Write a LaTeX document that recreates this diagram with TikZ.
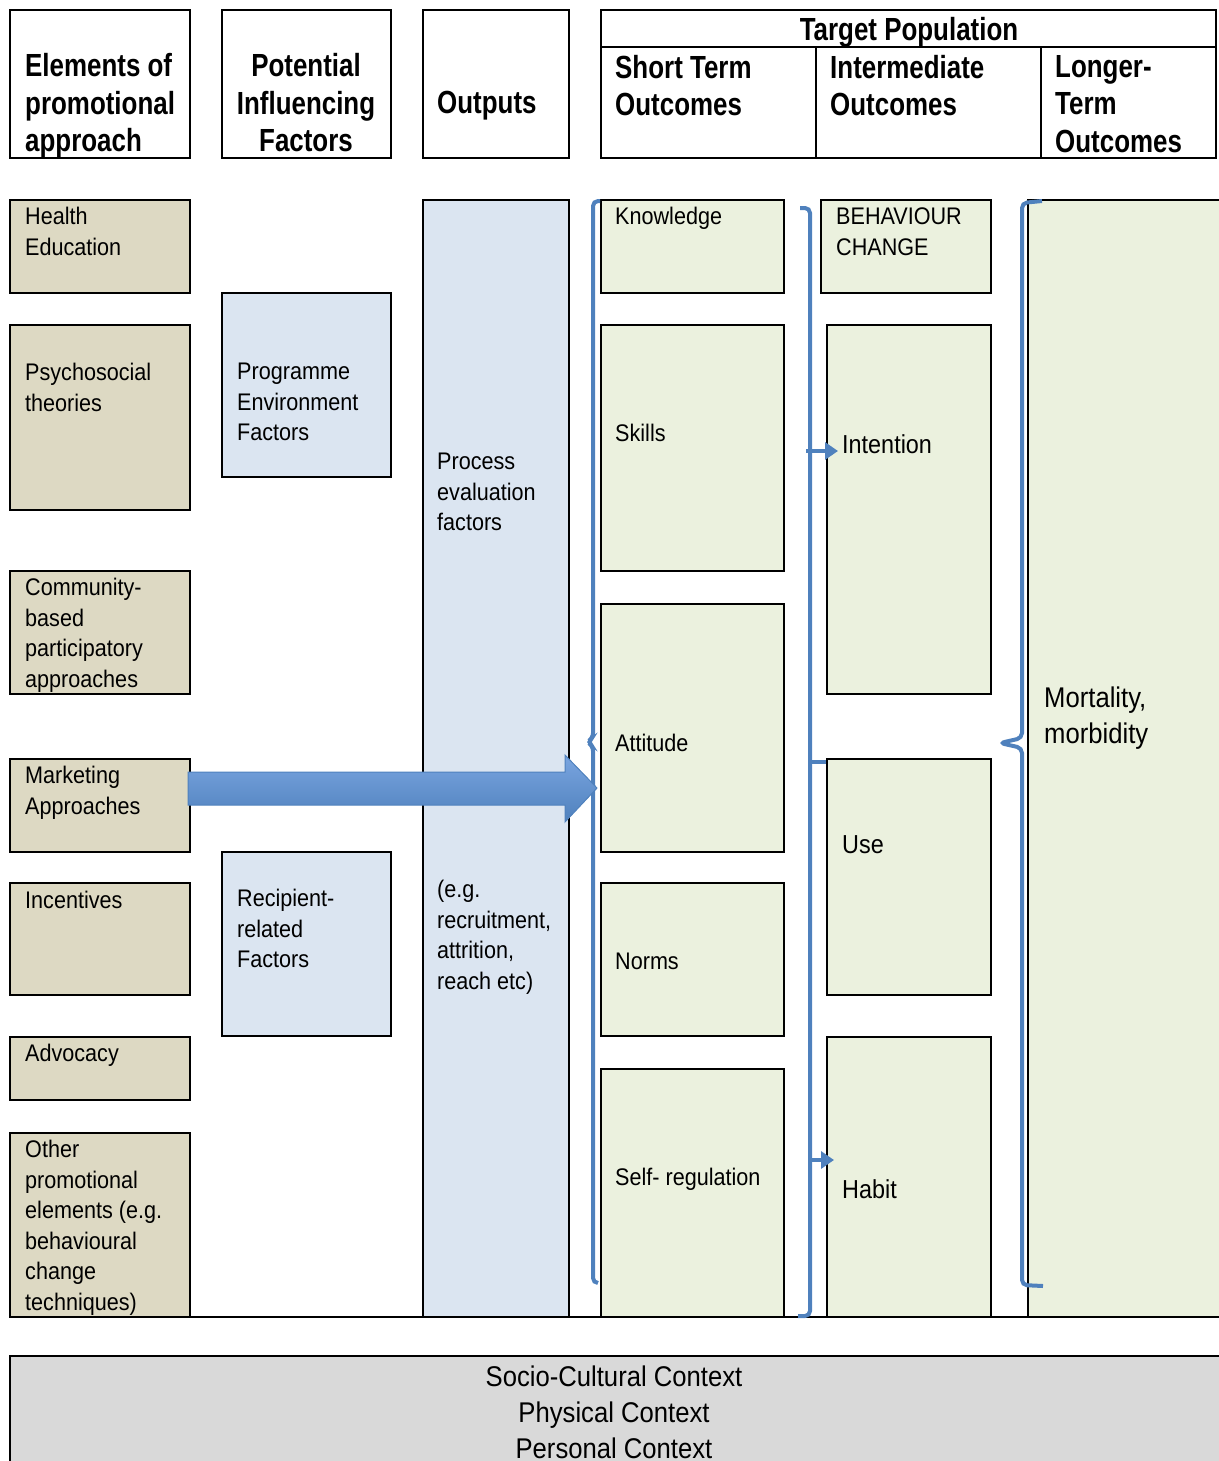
\documentclass[tikz,border=0pt]{standalone}
\usepackage{fontspec}
\setmainfont{Liberation Sans}[FakeStretch=0.9]
\newfontfamily\hdfont{Liberation Sans}[FakeStretch=0.81]
\usetikzlibrary{arrows.meta,calc}
\definecolor{tanfill}{HTML}{DDD9C3}
\definecolor{bluefill}{HTML}{DBE5F1}
\definecolor{greenfill}{HTML}{EBF1DE}
\definecolor{brblue}{HTML}{4F81BD}
\definecolor{ctxgray}{HTML}{D9D9D9}
\definecolor{arrtop}{HTML}{7AA5E0}
\definecolor{arrmid}{HTML}{93BBF0}
\definecolor{arrbot}{HTML}{4F81BD}
\tikzset{
  box/.style={draw=black, line width=1.8pt, anchor=north west, inner sep=0pt, outer sep=0pt},
  tanbox/.style={box, fill=tanfill},
  bluebox/.style={box, fill=bluefill},
  greenbox/.style={box, fill=greenfill},
  hdbox/.style={box, line width=2.2pt, fill=white},
  txt/.style={anchor=base west, align=left, inner sep=0pt, font=\fontsize{24}{30.5}\selectfont},
  midtxt/.style={anchor=base west, align=left, inner sep=0pt, font=\fontsize{26}{33}\selectfont},
  bigtxt/.style={anchor=base west, align=left, inner sep=0pt, font=\fontsize{28.5}{36}\selectfont},
  hdtxt/.style={anchor=base west, align=left, inner sep=0pt, font=\hdfont\bfseries\fontsize{32}{37}\selectfont},
  brace/.style={draw=brblue, line width=4pt, rounded corners=5pt},
  smallarrow/.style={draw=brblue, line width=4.5pt, -{Triangle[length=13pt,width=17pt]}}
}
\begin{document}
\begin{tikzpicture}[x=1pt,y=-1pt]
\useasboundingbox (0,0) rectangle (1218,1461);
% header boxes
\node[hdbox, minimum width=180, minimum height=148] (h1) at (10,10) {};
\node[hdbox, minimum width=169, minimum height=148] (h2) at (222,10) {};
\node[hdbox, minimum width=146, minimum height=148] (h3) at (423,10) {};
\node[hdbox, minimum width=615, minimum height=37] (tp) at (601,10) {};
\node[hdbox, minimum width=215, minimum height=111] (st) at (601,47) {};
\node[hdbox, minimum width=225, minimum height=111] (im) at (816,47) {};
\node[hdbox, minimum width=175, minimum height=111] (lt) at (1041,47) {};
\node[hdtxt] (h1t) at (25,151) {Elements of\\promotional\\approach};
\node[hdtxt, anchor=base, align=center] (h2t) at (306,151) {Potential\\Influencing\\Factors};
\node[hdtxt] (h3t) at (437,113.5) {Outputs};
\node[hdtxt, anchor=base] (tpt) at (909,40.5) {Target Population};
\node[hdtxt] (stt) at (615,115.5) {Short Term\\Outcomes};
\node[hdtxt] (imt) at (830,115.5) {Intermediate\\Outcomes};
\node[hdtxt] (ltt) at (1055,152) {Longer-\\Term\\Outcomes};
% column 1
\node[tanbox, minimum width=180, minimum height=93] (he) at (10,200) {};
\node[tanbox, minimum width=180, minimum height=185] (ps) at (10,325) {};
\node[tanbox, minimum width=180, minimum height=123] (cb) at (10,571) {};
\node[tanbox, minimum width=180, minimum height=93] (ma) at (10,759) {};
\node[tanbox, minimum width=180, minimum height=112] (inc) at (10,883) {};
\node[tanbox, minimum width=180, minimum height=63] (adv) at (10,1037) {};
\node[tanbox, minimum width=180, minimum height=184] (oth) at (10,1133) {};
\node[txt] (het) at (25,255) {Health\\Education};
\node[txt] (pst) at (25,411) {Psychosocial\\theories};
\node[txt] (cbt) at (25,687) {Community-\\based\\participatory\\approaches};
\node[txt] (mat) at (25,814) {Marketing\\Approaches};
\node[txt] (inct) at (25,908.5) {Incentives};
\node[txt] (advt) at (25,1061.5) {Advocacy};
\node[txt] (otht) at (25,1310) {Other\\promotional\\elements (e.g.\\behavioural\\change\\techniques)};
% column 2
\node[bluebox, minimum width=169, minimum height=184] (pe) at (222,293) {};
\node[bluebox, minimum width=169, minimum height=184] (rr) at (222,852) {};
\node[txt] (pet) at (237,440.5) {Programme\\Environment\\Factors};
\node[txt] (rrt) at (237,967.5) {Recipient-\\related\\Factors};
% column 3
\node[bluebox, minimum width=146, minimum height=1117] (out) at (423,200) {};
\node[txt] (outt1) at (437,530.5) {Process\\evaluation\\factors};
\node[txt] (outt2) at (437,989) {(e.g.\\recruitment,\\attrition,\\reach etc)};
% column 4
\node[greenbox, minimum width=183, minimum height=93] (kn) at (601,200) {};
\node[greenbox, minimum width=183, minimum height=246] (sk) at (601,325) {};
\node[greenbox, minimum width=183, minimum height=248] (at) at (601,604) {};
\node[greenbox, minimum width=183, minimum height=153] (no) at (601,883) {};
\node[greenbox, minimum width=183, minimum height=248] (sr) at (601,1069) {};
\node[txt] (knt) at (615,224.5) {Knowledge};
\node[txt] (skt) at (615,441.5) {Skills};
\node[txt] (att) at (615,751.5) {Attitude};
\node[txt] (not) at (615,969.5) {Norms};
\node[txt] (srt) at (615,1185.5) {Self- regulation};
% column 5
\node[greenbox, minimum width=170, minimum height=93] (bc) at (821,200) {};
\node[greenbox, minimum width=164, minimum height=369] (int) at (827,325) {};
\node[greenbox, minimum width=164, minimum height=236] (use) at (827,759) {};
\node[greenbox, minimum width=164, minimum height=280] (hab) at (827,1037) {};
\node[txt] (bct) at (836,255) {BEHAVIOUR\\CHANGE};
\node[midtxt] (intt) at (842,453) {Intention};
\node[midtxt] (uset) at (842,853) {Use};
\node[midtxt] (habt) at (842,1198) {Habit};
% column 6
\node[greenbox, minimum width=200, minimum height=1117] (mor) at (1028,200) {};
\node[bigtxt] (mort) at (1044,743) {Mortality,\\morbidity};
% bottom line
\draw[line width=2pt] (10,1317) -- (1218,1317);
% context box
\node[box, fill=ctxgray, line width=2pt, minimum width=1220, minimum height=120] (ctx) at (10,1356) {};
\node[bigtxt, anchor=base, align=center] (ctxt) at (614,1458) {Socio-Cultural Context\\Physical Context\\Personal Context};
% brackets
\draw[brace] (600,201) -- (593,201) -- (593,738) -- (587,742) -- (593,746) -- (593,1283) -- (598,1283);
\draw[brace] (798,1316) -- (810,1316) -- (810,208) -- (800,208);
\draw[draw=brblue, line width=4pt] (810,762) -- (826,762);
\draw[brace] (1042,201) -- (1022,203) -- (1022,738) -- (1000,743) -- (1022,748) -- (1022,1285) -- (1043,1286);
% small arrows
\coordinate (s1) at (806,451);
\coordinate (s2) at (808,1160);
\draw[smallarrow] (s1) -- ($(int.west |- s1)+(11,0)$);
\draw[smallarrow] (s2) -- ($(hab.west |- s2)+(7,0)$);
% big arrow
\shade[top color=arrtop, middle color=arrmid, bottom color=arrbot, draw=brblue, line width=1pt]
  (188,772) -- (565,772) -- (565,755) -- (597,788) -- (565,822) -- (565,805) -- (188,805) -- cycle;
\end{tikzpicture}
\end{document}
